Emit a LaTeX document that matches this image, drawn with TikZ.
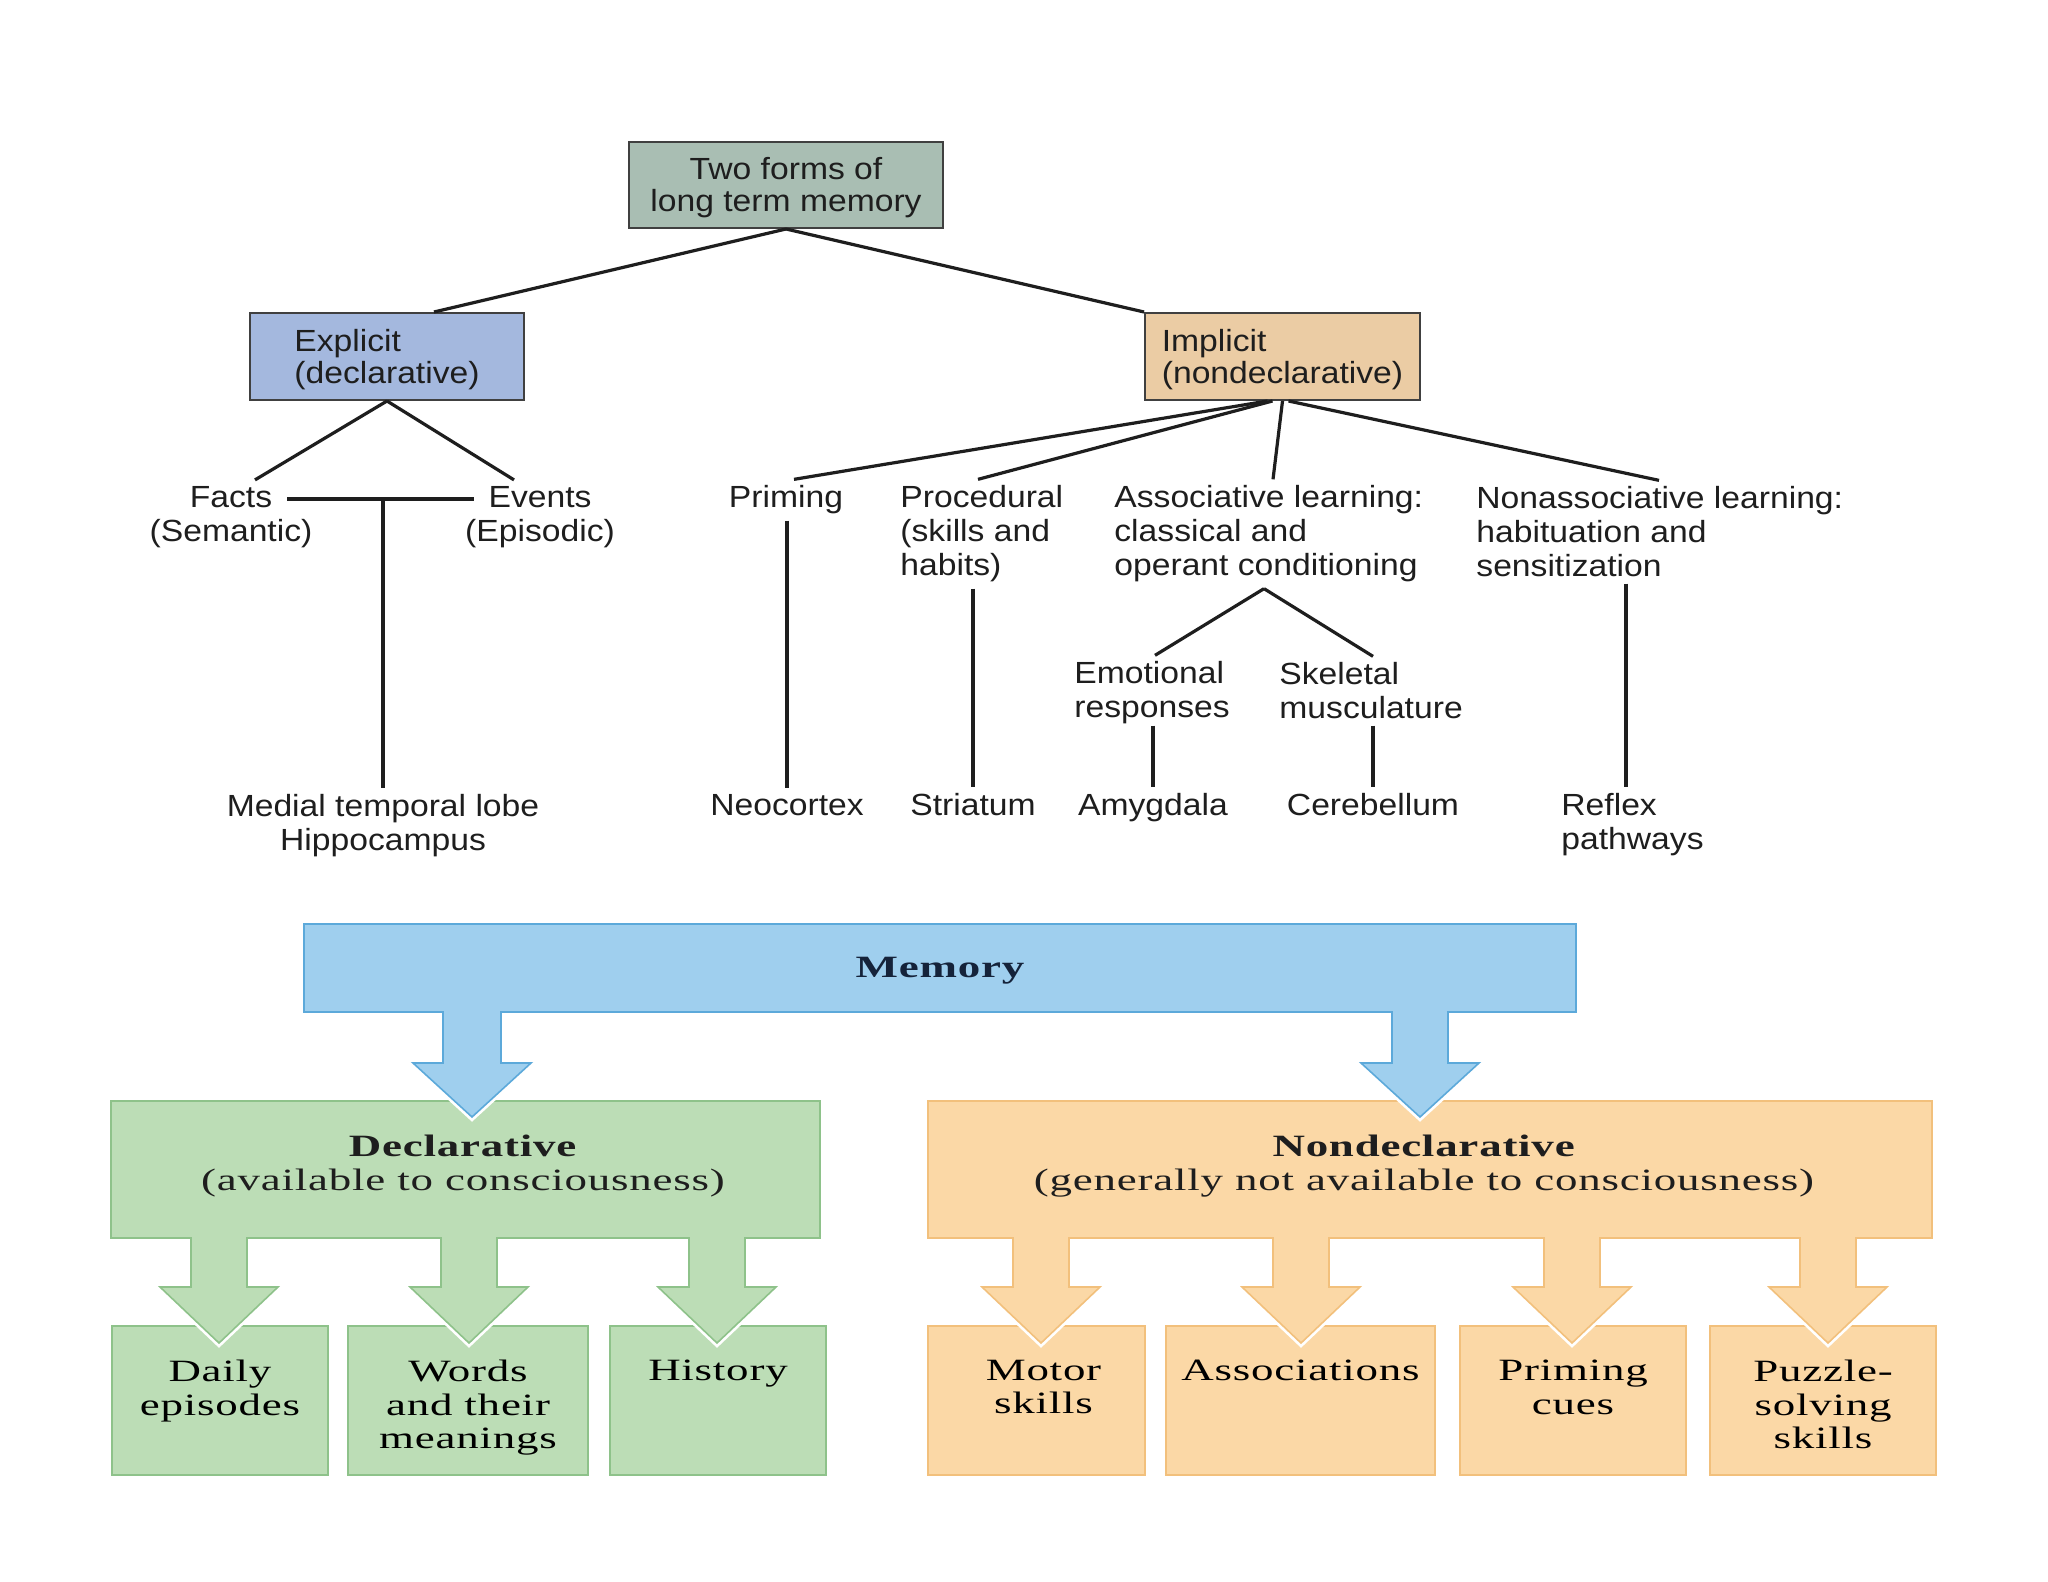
\documentclass[tikz,border=0pt]{standalone}
\usepackage{fontspec}
\setmainfont{Liberation Sans}[FakeStretch=1.1]
\newfontfamily\botserif{Liberation Serif}[FakeStretch=1.45,LetterSpace=2.5]
\usetikzlibrary{calc}
\newcommand\mytopfont{\fontsize{15.3pt}{17pt}\selectfont}
\newcommand\myboxfont{\fontsize{15.3pt}{16pt}\selectfont}
\newcommand\mybotfont{\botserif\fontsize{15.5pt}{16.75pt}\selectfont}
\newcommand\subtext[3]{\parbox[c][#1][t]{#2}{\mybotfont\centering\vspace*{17pt}#3\par}}
\newcommand\tallstrut{\rule{0pt}{14pt}}
\definecolor{topfill}{HTML}{A9BEB3}
\definecolor{explfill}{HTML}{A4B8DE}
\definecolor{implfill}{HTML}{EBCCA4}
\definecolor{memfill}{HTML}{9FCFEE}
\definecolor{memdraw}{HTML}{5CA9DA}
\definecolor{greenfill}{HTML}{BCDDB6}
\definecolor{greendraw}{HTML}{8EC28A}
\definecolor{orangefill}{HTML}{FBD8A6}
\definecolor{orangedraw}{HTML}{F2C07C}
\definecolor{navy}{HTML}{15233A}
\definecolor{ink}{HTML}{1E1E1E}
\tikzset{
  topbox/.style={draw=black!75, line width=1pt, inner sep=0pt, font=\myboxfont, text=ink},
  lbl/.style={inner xsep=0pt, inner ysep=3pt, font=\mytopfont, text=ink},
  conn/.style={line width=1.6pt, draw=ink},
  gsub/.style={draw=greendraw, fill=greenfill, line width=0.8pt, inner sep=0pt},
  osub/.style={draw=orangedraw, fill=orangefill, line width=0.8pt, inner sep=0pt},
  halo/.style={preaction={draw=white, line width=3.5pt, line join=miter}},
  gshape/.style={fill=greenfill, draw=greendraw, line width=0.8pt, halo},
  oshape/.style={fill=orangefill, draw=orangedraw, line width=0.8pt, halo},
  mshape/.style={fill=memfill, draw=memdraw, line width=0.8pt, halo},
  bottxt/.style={font=\mybotfont, text=ink, align=center, inner sep=0pt}
}
\begin{document}
\begin{tikzpicture}[x=0.5pt,y=-0.5pt]
\useasboundingbox (0,0) rectangle (2048,1582);
\fill[white] (0,0) rectangle (2048,1582);

% ---------------- upper tree ----------------
\node[topbox, fill=topfill, minimum width=157pt, minimum height=43pt, align=center] (top) at (786,185) {\tallstrut Two forms of\\long term memory};
\node[topbox, fill=explfill, minimum width=137pt, minimum height=43.5pt, align=left] (expl) at (387,356.5) {\tallstrut Explicit\\(declarative)};
\node[topbox, fill=implfill, minimum width=137.5pt, minimum height=43.5pt, align=left] (impl) at (1282.5,356.5) {\tallstrut Implicit\\(nondeclarative)};

\node[lbl, align=center] (facts) at (231,517) {Facts\\(Semantic)};
\node[lbl, align=center] (events) at (540,517) {Events\\(Episodic)};
\node[lbl, align=center] (medial) at (383,826) {Medial temporal lobe\\Hippocampus};
\node[lbl] (priming) at (786,500) {Priming};
\node[lbl, align=left, anchor=west] (proc) at (900,534) {Procedural\\(skills and\\habits)};
\node[lbl, align=left, anchor=west] (assoc) at (1114,534) {Associative learning:\\classical and\\operant conditioning};
\node[lbl, align=left, anchor=west] (nonassoc) at (1476,532) {Nonassociative learning:\\habituation and\\sensitization};
\node[lbl, align=left, anchor=west] (emot) at (1074,693) {Emotional\\responses};
\node[lbl, align=left, anchor=west] (skel) at (1279,691) {Skeletal\\musculature};
\node[lbl] (neo) at (787,805) {Neocortex};
\node[lbl] (stri) at (973,805) {Striatum};
\node[lbl] (amyg) at (1153,808) {Amygdala};
\node[lbl] (cereb) at (1373,805) {Cerebellum};
\node[lbl, align=left, anchor=west] (reflex) at (1561,825) {Reflex\\pathways};

\coordinate (fe1) at (287,499);
\coordinate (fe2) at (474,499);
\coordinate (fej) at (383,499);
\coordinate (rtop) at ($(reflex.north west)+(65,0)$);
\coordinate (asplit) at ($(assoc.south west)+(150,0)$);

\draw[conn] (top.south) -- ($(expl.north)+(47,0)$);
\draw[conn] (top.south) -- (impl.north west);
\draw[conn] (expl.south) -- ($(facts.north)+(24,0)$);
\draw[conn] (expl.south) -- ($(events.north)+(-26,0)$);
\draw[conn, line width=1.9pt] (fe1) -- (fe2);
\draw[conn, line width=1.9pt] (fej) -- (medial.north);
\draw[conn] ($(impl.south)+(-15,0)$) -- ($(priming.north)+(8,0)$);
\draw[conn] ($(impl.south)+(-10,0)$) -- ($(proc.north west)+(78,0)$);
\draw[conn] (impl.south) -- ($(assoc.north west)+(159,0)$);
\draw[conn] ($(impl.south)+(6,0)$) -- ($(nonassoc.north west)+(183,0)$);
\draw[conn, line width=1.9pt] (neo.north |- priming.south) -- (neo.north);
\draw[conn, line width=1.9pt] (stri.north |- proc.south) -- (stri.north);
\draw[conn] (asplit) -- ($(emot.north west)+(81,0)$);
\draw[conn] (asplit) -- ($(skel.north west)+(94,0)$);
\draw[conn, line width=1.9pt] (amyg.north |- skel.south) -- (amyg.north);
\draw[conn, line width=1.9pt] (cereb.north |- skel.south) -- (cereb.north);
\draw[conn, line width=1.9pt] (rtop |- nonassoc.south) -- (rtop);

% ---------------- lower scheme ----------------
\node[gsub] (daily) at (220,1400.5) {\subtext{74.5pt}{108pt}{Daily\\episodes}};
\node[gsub] (words) at (468,1400.5) {\subtext{74.5pt}{120pt}{Words\\and their\\meanings}};
\node[gsub] (hist) at (718,1400.5) {\subtext{74.5pt}{108pt}{History}};
\node[osub] (motor) at (1036.5,1400.5) {\subtext{74.5pt}{108.5pt}{\hspace*{7pt}Motor\\\hspace*{7pt}skills}};
\node[osub] (assocs) at (1300.5,1400.5) {\subtext{74.5pt}{134.5pt}{Associations}};
\node[osub] (primc) at (1573,1400.5) {\subtext{74.5pt}{113pt}{Priming\\cues}};
\node[osub] (puzzle) at (1823,1400.5) {\subtext{74.5pt}{113pt}{Puzzle-\\solving\\skills}};

\path[gshape] (111,1101) -- (820,1101) -- (820,1238)
  \foreach \c in {717,469,219} { -- ({\c+28},1238) -- ({\c+28},1287) -- ({\c+59},1287) -- (\c,1343) -- ({\c-59},1287) -- ({\c-28},1287) -- ({\c-28},1238) }
  -- (111,1238) -- cycle;
\path[oshape] (928,1101) -- (1932,1101) -- (1932,1238)
  \foreach \c in {1828,1572,1301,1041} { -- ({\c+28},1238) -- ({\c+28},1287) -- ({\c+59},1287) -- (\c,1343) -- ({\c-59},1287) -- ({\c-28},1287) -- ({\c-28},1238) }
  -- (928,1238) -- cycle;
\node[bottxt] (decl) at (463,1166) {\textbf{Declarative}\\(available to consciousness)};
\node[bottxt] (nondecl) at (1424,1166) {\textbf{Nondeclarative}\\(generally not available to consciousness)};

\path[mshape] (304,924) -- (1576,924) -- (1576,1012)
  -- (1448,1012) -- (1448,1063) -- (1479,1063) -- (1420,1117) -- (1361,1063) -- (1392,1063) -- (1392,1012)
  -- (501,1012) -- (501,1063) -- (531,1063) -- (472,1117) -- (413,1063) -- (443,1063) -- (443,1012)
  -- (304,1012) -- cycle;
\node[font=\mybotfont\bfseries, text=navy, inner sep=0pt] (mem) at (940,971) {Memory};
\end{tikzpicture}
\end{document}
